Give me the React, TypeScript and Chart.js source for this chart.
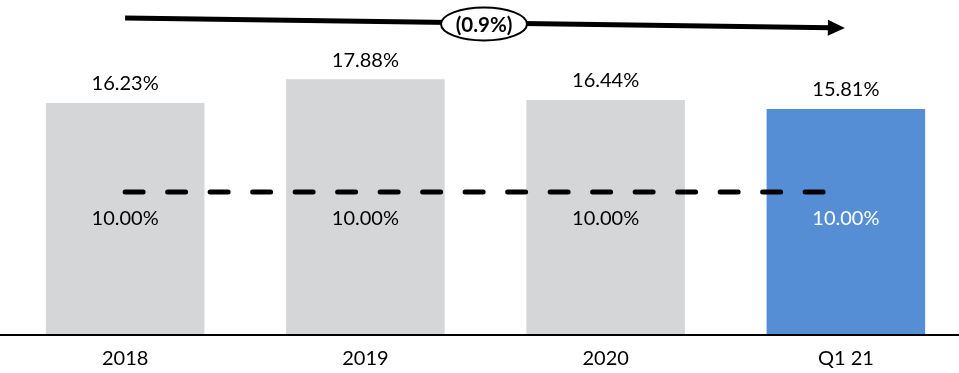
import React, { useEffect, useRef } from "react";
import { Chart, registerables } from "chart.js";

Chart.register(...registerables);

const categories = ["2018", "2019", "2020", "Q1 21"];
const ratioValues = [16.23, 17.88, 16.44, 15.81];
const minimumValues = [10, 10, 10, 10];
const changeLabel = "(0.9%)";
const barColors = ["#D5D6D8", "#D5D6D8", "#D5D6D8", "#558ED5"];
const minLabelColors = ["#000000", "#000000", "#000000", "#FFFFFF"];

const FONT = "Lato, 'Noto Sans', sans-serif";

const labelsPlugin = {
  id: "labelsPlugin",
  afterDatasetsDraw(chart: any) {
    const ctx = chart.ctx;
    const barMeta = chart.getDatasetMeta(0);
    const lineMeta = chart.getDatasetMeta(1);
    const yScale = chart.scales.y;
    ctx.save();
    ctx.font = `20px ${FONT}`;
    ctx.textAlign = "center";
    ctx.textBaseline = "middle";
    barMeta.data.forEach((bar: any, i: number) => {
      ctx.fillStyle = "#000";
      ctx.fillText(ratioValues[i].toFixed(2) + "%", bar.x, bar.y - 19);
    });
    lineMeta.data.forEach((pt: any, i: number) => {
      ctx.fillStyle = minLabelColors[i];
      ctx.fillText(minimumValues[i].toFixed(2) + "%", pt.x, pt.y + 27);
    });
    // axis baseline
    const y0 = yScale.getPixelForValue(0);
    ctx.strokeStyle = "#000";
    ctx.lineWidth = 2;
    ctx.beginPath();
    ctx.moveTo(0, y0);
    ctx.lineTo(chart.width, y0);
    ctx.stroke();
    // trend arrow
    const x1 = barMeta.data[0].x;
    const x2 = barMeta.data[barMeta.data.length - 1].x - 1;
    const ya = 18;
    const yb = 28;
    ctx.strokeStyle = "#000";
    ctx.lineWidth = 5;
    ctx.beginPath();
    ctx.moveTo(x1, ya);
    ctx.lineTo(x2 - 14, yb - 0.2);
    ctx.stroke();
    const ang = Math.atan2(yb - ya, x2 - x1);
    ctx.fillStyle = "#000";
    ctx.beginPath();
    ctx.moveTo(x2, yb);
    ctx.lineTo(x2 - 17 * Math.cos(ang) + 8 * Math.sin(ang), yb - 17 * Math.sin(ang) - 8 * Math.cos(ang));
    ctx.lineTo(x2 - 17 * Math.cos(ang) - 8 * Math.sin(ang), yb - 17 * Math.sin(ang) + 8 * Math.cos(ang));
    ctx.closePath();
    ctx.fill();
    // ellipse
    const ex = 484;
    const ey = 24;
    ctx.beginPath();
    ctx.ellipse(ex, ey, 43, 16.5, 0, 0, Math.PI * 2);
    ctx.fillStyle = "#fff";
    ctx.fill();
    ctx.lineWidth = 2;
    ctx.strokeStyle = "#000";
    ctx.stroke();
    ctx.fillStyle = "#000";
    ctx.font = `bold 20.5px ${FONT}`;
    ctx.fillText(changeLabel, ex, ey + 1);
    ctx.restore();
  },
};

export default function App() {
  const ref = useRef<HTMLCanvasElement | null>(null);
  useEffect(() => {
    if (!ref.current) return;
    const chart = new Chart(ref.current, {
      type: "bar",
      data: {
        labels: categories,
        datasets: [
          {
            type: "bar",
            data: ratioValues,
            backgroundColor: barColors,
            borderWidth: 0,
            categoryPercentage: 1,
            barPercentage: 0.66,
            order: 1,
          } as any,
          {
            type: "line",
            data: minimumValues,
            borderColor: "#000",
            borderWidth: 5,
            borderDash: [18, 24.5],
            borderCapStyle: "round",
            pointRadius: 0,
            fill: false,
            order: 0,
          } as any,
        ],
      },
      options: {
        responsive: false,
        animation: false,
        devicePixelRatio: 1,
        layout: { padding: { left: 5, right: 0, top: 49, bottom: 0 } },
        plugins: { legend: { display: false }, tooltip: { enabled: false } },
        scales: {
          x: {
            grid: { display: false },
            border: { display: false },
            ticks: { color: "#000", font: { size: 20, family: FONT }, padding: 4 },
            afterFit: (s: any) => {
              s.height = 38;
            },
          },
          y: { display: false, min: 0, max: 20 },
        },
      },
      plugins: [labelsPlugin],
    });
    return () => chart.destroy();
  }, []);
  return (
    <div style={{ position: "absolute", left: 0, top: 0, width: 959, height: 373, overflow: "hidden", background: "#fff" }}>
      <canvas ref={ref} width={966} height={373} />
    </div>
  );
}
